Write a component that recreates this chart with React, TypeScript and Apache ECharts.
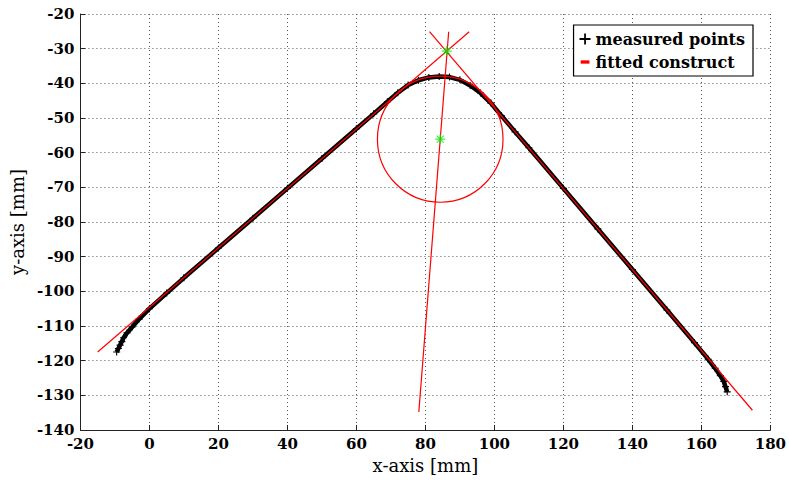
import React, { useEffect, useRef } from "react";
import * as echarts from "echarts";

// Measured profile points [x, y] in mm
const measuredPoints: number[][] = [
  [-9.5, -117.5], [-9.0, -116.5], [-8.5, -115.5], [-8.0, -114.5], [-7.5, -113.4],
  [-6.5, -112.0], [-5.0, -110.3], [-3.0, -108.0], [0, -105.0], [5, -100.5],
  [10, -96.1], [20, -87.5], [30, -78.9], [40, -70.3], [50, -61.7],
  [60, -53.1], [65, -48.8], [69, -45.3], [72, -42.7], [75, -40.5],
  [78, -39.1], [81, -38.3], [84, -38.0], [87, -38.2], [90, -39.0],
  [93, -40.6], [96, -42.8], [99, -45.7], [102, -49.3], [106, -54.0],
  [110, -58.6], [120, -70.3], [130, -82.0], [140, -93.7], [150, -105.4],
  [158, -114.8], [162, -119.6], [164, -122.2], [165.5, -124.3], [166.5, -126.0],
  [167.0, -127.5], [167.5, -129.0],
];

// Fitted construct
const leftLine: number[][] = [[-15, -117.5], [92.7, -25.1]];
const rightLine: number[][] = [[81.2, -25.1], [174.8, -134.3]];
const bisectorLine: number[][] = [[78.1, -134.8], [86.75, -25.1]];
const fittedCircle: number[][] = [[84.3, -56.1, 18.2]]; // cx, cy, radius
const constructPoints: number[][] = [[86.2, -30.7], [84.3, -56.1]];

// Axis ticks
const xMin = -20, xMax = 180, xStep = 20;
const yMin = -140, yMax = -20, yStep = 10;

const FONT = "DejaVu Serif";
const PLUS = "path://M4.2,0 L5.8,0 L5.8,4.2 L10,4.2 L10,5.8 L5.8,5.8 L5.8,10 L4.2,10 L4.2,5.8 L0,5.8 L0,4.2 L4.2,4.2 Z";
const STAR = "path://M5,0 L5,10 M0,5 L10,5 M1.5,1.5 L8.5,8.5 M8.5,1.5 L1.5,8.5";
const DASH = "path://M0,0 M1,3.5 L9,3.5 L9,6.5 L1,6.5 Z M10,10";

export default function App() {
  const ref = useRef<HTMLDivElement>(null);
  useEffect(() => {
    if (!ref.current) return;
    const chart = echarts.init(ref.current, undefined, { renderer: "svg" });
    const gridLine = { show: true, lineStyle: { color: "#555", width: 1, type: [1, 3] as any } };
    const redLine = (name: string, data: number[][]) => ({
      type: "line",
      name,
      data,
      showSymbol: false,
      symbol: "none",
      lineStyle: { color: "#ff0000", width: 1.2 },
      itemStyle: { color: "#ff0000" },
      z: 5,
    });
    chart.setOption({
      animation: false,
      backgroundColor: "#fff",
      grid: { left: 74.5, right: 18.5, top: 14, bottom: 52 },
      xAxis: {
        type: "value",
        min: xMin,
        max: xMax,
        interval: xStep,
        name: "x-axis [mm]",
        nameLocation: "middle",
        nameGap: 26,
        nameTextStyle: { fontFamily: FONT, fontSize: 18, color: "#000" },
        axisLine: { show: true, onZero: false, lineStyle: { color: "#222", width: 1 } },
        axisTick: { show: true, inside: true, length: 5, lineStyle: { color: "#222" } },
        axisLabel: { fontFamily: FONT, fontWeight: "bold", fontSize: 15, color: "#000", margin: 6 },
        splitLine: gridLine,
      },
      yAxis: {
        type: "value",
        min: yMin,
        max: yMax,
        interval: yStep,
        name: "y-axis [mm]",
        nameLocation: "middle",
        nameGap: 39,
        nameTextStyle: { fontFamily: FONT, fontSize: 18, color: "#000" },
        axisLine: { show: true, onZero: false, lineStyle: { color: "#222", width: 1 } },
        axisTick: { show: true, inside: true, length: 5, lineStyle: { color: "#222" } },
        axisLabel: { fontFamily: FONT, fontWeight: "bold", fontSize: 15, color: "#000", margin: 6 },
        splitLine: gridLine,
      },
      legend: {
        orient: "vertical",
        right: 36,
        top: 25,
        backgroundColor: "#fff",
        borderColor: "#000",
        borderWidth: 1.2,
        borderRadius: 0,
        padding: [6, 8, 6, 6],
        itemGap: 7,
        itemWidth: 11,
        itemHeight: 11,
        textStyle: { fontFamily: FONT, fontWeight: "bold", fontSize: 16, color: "#000" },
        data: [
          { name: "measured points", icon: PLUS, itemStyle: { color: "#000", borderWidth: 0 } },
          { name: "fitted construct", icon: DASH, itemStyle: { color: "#ff0000", borderWidth: 0 } },
        ],
      },
      series: [
        {
          type: "line",
          name: "measured points",
          data: measuredPoints,
          showSymbol: true,
          showAllSymbol: true,
          symbol: PLUS,
          symbolSize: 7,
          itemStyle: { color: "#000" },
          lineStyle: { color: "#000", width: 4.5 },
          z: 2,
        },
        redLine("fitted construct", leftLine),
        redLine("fitted construct", rightLine),
        redLine("fitted construct", bisectorLine),
        {
          type: "custom",
          name: "fitted construct",
          data: fittedCircle,
          z: 5,
          renderItem: (params: any, api: any) => {
            const c = api.coord([api.value(0), api.value(1)]);
            const r = api.size([api.value(2), api.value(2)]);
            return {
              type: "ellipse",
              shape: { cx: c[0], cy: c[1], rx: r[0], ry: r[1] },
              style: { fill: "none", stroke: "#ff0000", lineWidth: 1.2 },
            };
          },
        },
        {
          type: "scatter",
          name: "fitted construct",
          data: constructPoints,
          symbol: STAR,
          symbolSize: 10,
          itemStyle: { color: "#00ee00", borderColor: "#00ee00", borderWidth: 1.2 },
          z: 6,
        },
      ],
    });
    return () => chart.dispose();
  }, []);
  return (
    <div
      ref={ref}
      style={{ position: "fixed", left: 0, top: 0, width: 789, height: 482, background: "#fff" }}
    />
  );
}
